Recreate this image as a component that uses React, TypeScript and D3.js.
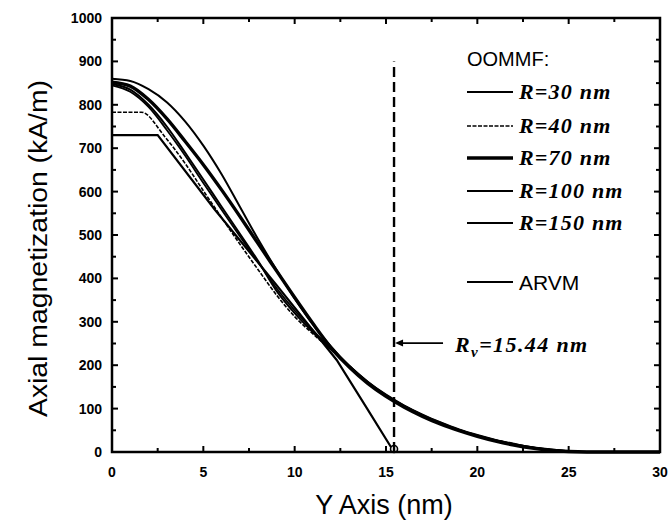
import React from "react";
import * as d3 from "d3";

const W = 669;
const H = 525;

const xTicks = [0, 5, 10, 15, 20, 25, 30];
const yTicks = [0, 100, 200, 300, 400, 500, 600, 700, 800, 900, 1000];

const legendLabels = ["R=30 nm", "R=40 nm", "R=70 nm", "R=100 nm", "R=150 nm"];

// OOMMF curves: [x (nm), M (kA/m)]
const r30: [number, number][] = [
  [0, 860], [1, 855], [2, 836], [3, 806], [4, 762], [5, 706], [6, 640], [7, 565], [8, 490], [9, 420],
  [10, 354], [11, 294], [12, 242], [13, 198], [14, 161], [15, 131], [16, 106], [17, 85], [18, 67],
  [19, 51], [20, 38], [21, 27], [22, 18], [23, 11], [24, 5], [25, 2], [26, 0], [30, 0],
];
const r40: [number, number][] = [
  [0, 783], [1.6, 783], [2.9, 726], [4, 665], [5, 602], [6, 540], [7, 479], [8, 420], [9, 362],
  [10, 312], [11, 272], [12, 235], [13, 196], [14, 160], [15, 130], [16, 104], [17, 83], [18, 65],
  [19, 50], [20, 37], [21, 26], [22, 17], [23, 10], [24, 5], [25, 2], [26, 0], [30, 0],
];
const r70: [number, number][] = [
  [0, 852], [1, 843], [2, 812], [3, 768], [4, 716], [5, 662], [6, 604], [7, 543], [8, 480], [9, 418],
  [10, 356], [11, 296], [12, 240], [13, 195], [14, 158], [15, 128], [16, 103], [17, 82], [18, 64],
  [19, 49], [20, 36], [21, 25], [22, 16], [23, 9], [24, 4], [25, 1], [26, 0], [30, 0],
];
const r100: [number, number][] = [
  [0, 848], [1, 835], [2, 800], [3, 750], [4, 690], [5, 628], [6, 565], [7, 503], [8, 440], [9, 372],
  [10, 320], [11, 276], [12, 236], [13, 198], [14, 162], [15, 132], [16, 107], [17, 86], [18, 68],
  [19, 52], [20, 39], [21, 28], [22, 19], [23, 11], [24, 6], [25, 2], [26, 0], [30, 0],
];
const r150: [number, number][] = [
  [0, 845], [1, 830], [2, 795], [3, 742], [4, 683], [5, 620], [6, 558], [7, 497], [8, 437], [9, 378],
  [10, 326], [11, 280], [12, 238], [13, 197], [14, 160], [15, 129], [16, 104], [17, 83], [18, 65],
  [19, 50], [20, 37], [21, 26], [22, 17], [23, 10], [24, 5], [25, 1], [26, 0], [30, 0],
];
const arvm: [number, number][] = [
  [0, 730], [2.5, 730], [5.6, 560], [9, 385], [12.3, 212], [13.95, 101], [15.44, 0], [30, 0],
];

const Rv = 15.44;
const arrowValue = 251;
const dashTop = 900;

const series = [
  { data: r30, width: 2, dash: "" },
  { data: r40, width: 1.6, dash: "4,1.5" },
  { data: r70, width: 3.4, dash: "" },
  { data: r100, width: 2, dash: "" },
  { data: r150, width: 1.8, dash: "" },
];

export default function App() {
  const left = 112, right = 660, top = 18, bottom = 452;
  const x = d3.scaleLinear().domain([0, 30]).range([left, right]);
  const y = d3.scaleLinear().domain([0, 1000]).range([bottom, top]);
  const line = d3
    .line<[number, number]>()
    .x((d) => x(d[0]))
    .y((d) => y(d[1]))
    .curve(d3.curveMonotoneX);
  const lineLin = d3
    .line<[number, number]>()
    .x((d) => x(d[0]))
    .y((d) => y(d[1]));

  const xMinor = d3.range(0, 30.01, 2.5);
  const yMinor = d3.range(0, 1000.1, 50);

  const legendX1 = 467, legendX2 = 513, legendTextX = 519;
  const legendY = [92, 126, 158, 191, 223];
  const arvmY = 282;

  const axisFont = "Arial, 'Liberation Sans', sans-serif";
  const serif = "'Times New Roman', 'Liberation Serif', serif";

  return (
    <svg width={W} height={H} style={{ position: "absolute", left: 0, top: 0, background: "#fff" }}>
      <rect x={0} y={0} width={W} height={H} fill="#fff" />
      {/* curves */}
      {series.map((s, i) => (
        <path key={i} d={line(s.data) || ""} fill="none" stroke="#000" strokeWidth={s.width} strokeDasharray={s.dash} />
      ))}
      <path d={lineLin(arvm) || ""} fill="none" stroke="#000" strokeWidth={2.2} />
      <circle cx={x(Rv)} cy={y(0) - 3} r={3.5} fill="#fff" stroke="#000" strokeWidth={1.6} />

      {/* dashed vertical line */}
      <line x1={x(Rv)} x2={x(Rv)} y1={y(0)} y2={y(dashTop)} stroke="#000" strokeWidth={2.4} strokeDasharray="10,5" />

      {/* arrow */}
      <line x1={x(Rv) + 6} x2={x(Rv) + 49} y1={y(arrowValue)} y2={y(arrowValue)} stroke="#000" strokeWidth={1.8} />
      <path
        d={`M${x(Rv) + 1},${y(arrowValue)} L${x(Rv) + 9},${y(arrowValue) - 3.5} L${x(Rv) + 9},${y(arrowValue) + 3.5} Z`}
        fill="#000"
      />
      <text x={455} y={y(arrowValue) + 9} fontFamily={serif} fontStyle="italic" fontWeight={700} fontSize={22} letterSpacing={1.4}>
        R
        <tspan fontSize={15} dy={5}>v</tspan>
        <tspan dy={-5}>=15.44 nm</tspan>
      </text>

      {/* frame */}
      <rect x={left} y={top} width={right - left} height={bottom - top} fill="none" stroke="#000" strokeWidth={2.5} />

      {/* ticks */}
      {xMinor.map((v) => {
        const major = v % 5 === 0;
        const len = major ? 6 : 4;
        return (
          <g key={"x" + v}>
            <line x1={x(v)} x2={x(v)} y1={bottom} y2={bottom - len} stroke="#000" strokeWidth={2} />
            <line x1={x(v)} x2={x(v)} y1={top} y2={top + len} stroke="#000" strokeWidth={2} />
          </g>
        );
      })}
      {yMinor.map((v) => {
        const major = v % 100 === 0;
        const len = major ? 6 : 4;
        return (
          <g key={"y" + v}>
            <line x1={left} x2={left + len} y1={y(v)} y2={y(v)} stroke="#000" strokeWidth={2} />
            <line x1={right} x2={right - len} y1={y(v)} y2={y(v)} stroke="#000" strokeWidth={2} />
          </g>
        );
      })}

      {xTicks.map((v) => (
        <text key={"xl" + v} x={x(v)} y={477} textAnchor="middle" fontFamily={axisFont} fontWeight={700} fontSize={14}>
          {v}
        </text>
      ))}
      {yTicks.map((v) => (
        <text key={"yl" + v} x={102} y={y(v) + 5} textAnchor="end" fontFamily={axisFont} fontWeight={700} fontSize={14}>
          {v}
        </text>
      ))}

      {/* axis titles */}
      <text x={(left + right) / 2 - 2} y={514} textAnchor="middle" fontFamily={axisFont} fontSize={27}>
        Y Axis (nm)
      </text>
      <g transform="translate(47,417) rotate(-90)">
        <text x={0} y={0} fontFamily={axisFont} fontSize={26} textLength={337} lengthAdjust="spacingAndGlyphs">
          Axial magnetization (kA/m)
        </text>
      </g>

      {/* legend */}
      <text x={467} y={66} fontFamily={axisFont} fontSize={20}>
        OOMMF:
      </text>
      {series.map((s, i) => (
        <g key={"lg" + i}>
          <line x1={legendX1} x2={legendX2} y1={legendY[i]} y2={legendY[i]} stroke="#000" strokeWidth={s.width} strokeDasharray={s.dash} />
          <text x={legendTextX} y={legendY[i] + 7} fontFamily={serif} fontStyle="italic" fontWeight={700} fontSize={22} letterSpacing={1.2}>
            {legendLabels[i]}
          </text>
        </g>
      ))}
      <line x1={legendX1} x2={legendX2} y1={arvmY} y2={arvmY} stroke="#000" strokeWidth={2.2} />
      <text x={legendTextX} y={arvmY + 8} fontFamily={axisFont} fontSize={21}>
        ARVM
      </text>
    </svg>
  );
}
